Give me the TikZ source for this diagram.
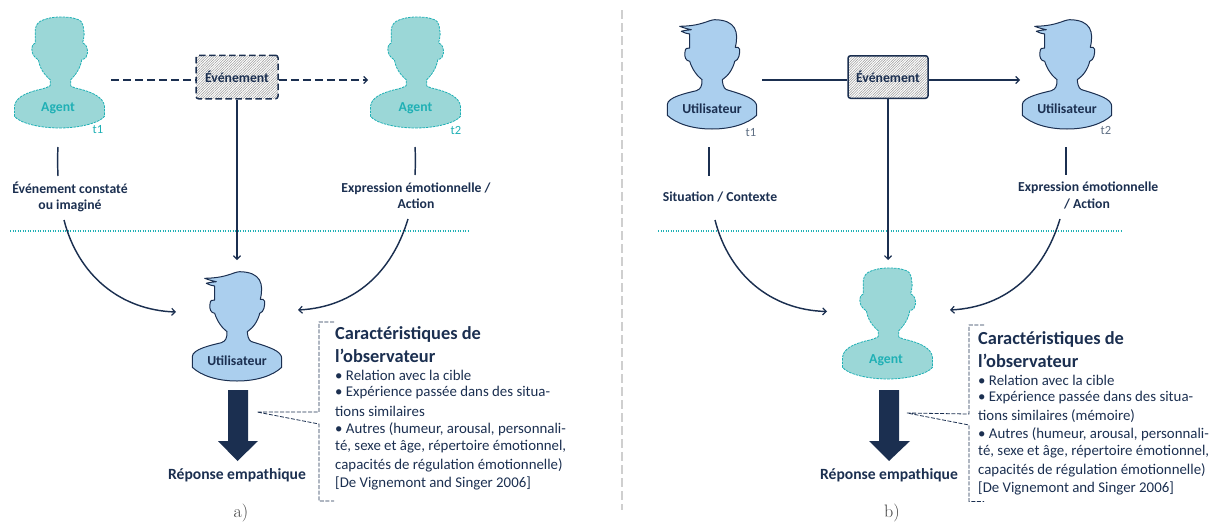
\documentclass[tikz,border=0pt]{standalone}
\usepackage{fontspec}
\newfontfamily\carl{Carlito}
\usetikzlibrary{arrows.meta,patterns.meta}
\definecolor{navy}{HTML}{1B2F50}
\definecolor{userblue}{HTML}{ABCFEE}
\definecolor{agentfill}{HTML}{9BD7D7}
\definecolor{agenttext}{HTML}{1FB0B5}
\definecolor{greytime}{HTML}{5F6F84}
\definecolor{sepgrey}{HTML}{CFCFCF}
\tikzset{
  x=1pt,y=-1pt,
  navyarrow/.style={draw=navy,line width=1.45pt,-{Straight Barb[length=3.5pt,width=7pt,line width=1.2pt]}},
  navyline/.style={draw=navy,line width=1.45pt},
  dashline/.style={draw=navy,line width=1.5pt,dash pattern=on 8pt off 4pt},
  dashtip/.style={dashline,-{Straight Barb[length=3.5pt,width=7pt,line width=1.2pt]}},
  bracket/.style={draw=navy,line width=.8pt,dash pattern=on 4pt off 1.6pt},
  dotline/.style={draw=agenttext,line width=1.3pt,dash pattern=on 1.2pt off 1.3pt},
  figlabel/.style={font=\carl\bfseries\fontsize{13.7}{15}\selectfont,text=navy,align=center,inner sep=0pt},
  agentname/.style={figlabel,text=agenttext},
  tlabel/.style={font=\carl\fontsize{12.5}{14}\selectfont,inner sep=0pt},
  response/.style={font=\carl\bfseries\fontsize{15.6}{18}\selectfont,text=navy,inner sep=0pt},
  headtext/.style={font=\carl\bfseries\fontsize{18.4}{22}\selectfont,text=navy,anchor=west,inner sep=0pt},
  bodytext/.style={font=\carl\fontsize{14.85}{18}\selectfont,text=navy,anchor=west,inner sep=0pt},
  caption/.style={font=\fontsize{18}{20}\selectfont,text=black!75,inner sep=0pt},
  eventbox/.style={rounded corners=2.5pt,minimum width=82pt,minimum height=43.5pt,inner sep=0pt,
    font=\carl\bfseries\fontsize{13.7}{15}\selectfont,text=navy,
    preaction={fill=white},
    pattern={Lines[angle=45,distance=1.8pt,line width=.5pt]},pattern color=black!40},
  bigarrow/.style={fill=navy,draw=none},
  pics/userfig/.style={code={
    \draw[fill=userblue,draw=navy,line width=1pt,line join=round]
      (0,0) .. controls (20,0) and (36,-5.5) .. (44.7,-13.7) -- (44.7,-22.7)
      .. controls (44.7,-30) and (32,-34) .. (16.7,-38.7)
      .. controls (13,-39.5) and (11,-41) .. (10.3,-49.3)
      .. controls (16,-53) and (21,-60) .. (22.7,-67.7)
      .. controls (27,-69) and (28,-75) .. (27.5,-80)
      .. controls (27,-82) and (25,-82) .. (23.3,-81.7)
      .. controls (27,-97) and (24,-109) .. (2.7,-109.3)
      .. controls (-4,-109) and (-10,-103) .. (-32.3,-102.7)
      .. controls (-28,-101) and (-24,-100) .. (-20.7,-99.3)
      .. controls (-24,-99) and (-28,-98.5) .. (-30.7,-97.7)
      .. controls (-28,-96) and (-25,-95.5) .. (-22.3,-95)
      -- (-22.3,-81)
      .. controls (-25,-82) and (-27,-80) .. (-27,-77)
      .. controls (-28,-72) and (-26,-68) .. (-22.3,-67.7)
      .. controls (-20,-60) and (-15,-53) .. (-10,-49.3)
      .. controls (-10,-43) and (-11,-40) .. (-15.7,-38.3)
      .. controls (-25,-36) and (-44.7,-32) .. (-44.7,-24.3)
      -- (-44.7,-13.7)
      .. controls (-36,-5.5) and (-20,0) .. (0,0) -- cycle;
  }},
  pics/agentfig/.style={code={
    \draw[fill=agentfill,draw=agenttext,line width=.8pt,dash pattern=on 2.5pt off 1pt,line join=round]
      (0,0) .. controls (20,0) and (40,-5) .. (45,-11.7) -- (45,-21.7)
      .. controls (44,-31) and (32,-36) .. (20,-39)
      .. controls (16,-40) and (13,-40.5) .. (11.3,-42) -- (11.3,-48.3)
      .. controls (16,-53) and (21,-60) .. (22.3,-68.3)
      .. controls (26,-69) and (28,-72) .. (28,-75)
      .. controls (28,-79) and (27.5,-84) .. (23,-85)
      .. controls (25,-92) and (25,-96) .. (24,-98.3)
      .. controls (24,-106) and (20,-108) .. (19,-108.3)
      .. controls (12,-111) and (6,-111) .. (0.7,-111)
      .. controls (-8,-111) and (-15,-109) .. (-19.3,-106.7)
      .. controls (-23,-104) and (-24.3,-101) .. (-24.3,-98.3)
      -- (-24.3,-85)
      .. controls (-26,-84) and (-27.7,-83) .. (-27.7,-80)
      .. controls (-28,-75) and (-26,-71) .. (-21,-68)
      .. controls (-20,-60) and (-15,-53) .. (-9.3,-48.3) -- (-9.3,-42.3)
      .. controls (-14,-39.5) and (-18,-39) .. (-22,-38)
      .. controls (-33,-35) and (-44,-31) .. (-45,-21.7) -- (-45,-11.7)
      .. controls (-40,-5) and (-20,0) .. (0,0) -- cycle;
  }}
}
\begin{document}
\begin{tikzpicture}
\useasboundingbox (0,0) rectangle (1219,525);
% separator
\coordinate (septop) at (622,10);
\coordinate (sepbot) at (622,510);
\draw[draw=sepgrey,line width=1.8pt,dash pattern=on 9pt off 4pt] (septop) -- (sepbot);
% dotted lines
\coordinate (dotAl) at (10,231); \coordinate (dotAr) at (469,231);
\coordinate (dotBl) at (658,231); \coordinate (dotBr) at (1121,231);
\draw[dotline] (dotAl) -- (dotAr);
\draw[dotline] (dotBl) -- (dotBr);

% ---- panel a
\pic at (59.5,128) {agentfig};
\pic at (415.5,128) {agentfig};
\pic at (237,381) {userfig};
\node[agentname] (agA1) at (58,108.5) {Agent};
\node[agentname] (agA2) at (415.5,108.5) {Agent};
\node[figlabel] (usA) at (237,360.5) {Utilisateur};
\node[tlabel,text=agenttext] (tA1) at (98,130) {t1};
\node[tlabel,text=agenttext] (tA2) at (456,130) {t2};
\node[eventbox,draw=navy,line width=1.5pt,dash pattern=on 6.5pt off 3.5pt] (evA) at (237,77) {Événement};
\coordinate (inA) at (111,80);
\coordinate (outA) at (368,80);
\coordinate (downA) at (237,260);
\draw[dashline] (inA) -- (inA -| evA.west);
\draw[dashtip] (outA -| evA.east) -- (outA);
\draw[navyarrow] (evA.south) -- (downA);
\coordinate (a1s) at (58,147); \coordinate (a1e) at (58,176);
\coordinate (a2s) at (415,147); \coordinate (a2e) at (415,175);
\draw[navyline] (a1s) .. controls (57.5,155) and (57.5,165) .. (a1e);
\draw[navyline] (a2s) .. controls (415.5,155) and (415.5,165) .. (a2e);
\node[figlabel] (lblA1) at (70,197) {Événement constaté\\[1pt]ou imaginé};
\node[figlabel] (lblA2) at (416,196) {Expression émotionnelle /\\[1pt]Action};
\coordinate (c1a) at (64,220); \coordinate (c1b) at (176,312);
\coordinate (c2a) at (408,219); \coordinate (c2b) at (298,310);
\draw[navyarrow] (c1a) .. controls (78,275) and (120,310) .. (c1b);
\draw[navyarrow] (c2a) .. controls (392,272) and (355,307) .. (c2b);
\fill[bigarrow] (228,390) -- (248,390) -- (248,441) -- (258,441) -- (237.5,461) -- (218,441) -- (228,441) -- cycle;
\node[response] (respA) at (237,475) {Réponse empathique};
\coordinate (brA0) at (334,322); \coordinate (brA1) at (319,322); \coordinate (brA2) at (319,412);
\coordinate (brA3) at (257,412); \coordinate (brA4) at (319,424); \coordinate (brA5) at (319,501); \coordinate (brA6) at (334,501);
\draw[bracket] (brA0) -- (brA1) -- (brA2) -- (brA3) -- (brA4) -- (brA5) -- (brA6);
\node[headtext] (hA1) at (335,334) {Caractéristiques de};
\node[headtext] (hA2) at (335,356) {l’observateur};
\node[bodytext] (tA_1) at (335,375) {• Relation avec la cible};
\node[bodytext] (tA_2) at (335,393) {• Expérience passée dans des situa-};
\node[bodytext] (tA_3) at (335,411) {tions similaires};
\node[bodytext] (tA_4) at (335,429) {• Autres (humeur, arousal, personnali-};
\node[bodytext] (tA_5) at (335,447) {té, sexe et âge, répertoire émotionnel,};
\node[bodytext] (tA_6) at (335,465) {capacités de régulation émotionnelle)};
\node[bodytext] (tA_7) at (335,483) {[De Vignemont and Singer 2006]};
\node[caption] (capA) at (241,513) {a)};

% ---- panel b
\pic at (712,129) {userfig};
\pic at (1067,129) {userfig};
\pic at (887.5,379) {agentfig};
\node[figlabel] (usB1) at (712,108.5) {Utilisateur};
\node[figlabel] (usB2) at (1067,108.5) {Utilisateur};
\node[agentname] (agB) at (886,360) {Agent};
\node[tlabel,text=greytime] (tB1) at (751,133) {t1};
\node[tlabel,text=greytime] (tB2) at (1106,130) {t2};
\node[eventbox,draw=navy,line width=1.5pt,minimum width=80pt,minimum height=42.5pt] (evB) at (888,77) {Événement};
\coordinate (inB) at (762,80);
\coordinate (outB) at (1020,80);
\coordinate (downB) at (888,260);
\draw[navyline] (inB) -- (inB -| evB.west);
\draw[navyarrow] (outB -| evB.east) -- (outB);
\draw[navyarrow] (evB.south) -- (downB);
\coordinate (b1s) at (709,147); \coordinate (b1e) at (709,176);
\coordinate (b2s) at (1066,147); \coordinate (b2e) at (1066,175);
\draw[navyline] (b1s) -- (b1e);
\draw[navyline] (b2s) -- (b2e);
\node[figlabel] (lblB1) at (720,197) {Situation / Contexte};
\node[figlabel,anchor=west] (lblB2a) at (1018,188) {Expression émotionnelle};
\node[figlabel] (lblB2b) at (1087,204) {/ Action};
\coordinate (d1a) at (715,220); \coordinate (d1b) at (827,311.5);
\coordinate (d2a) at (1060,219); \coordinate (d2b) at (950,310);
\draw[navyarrow] (d1a) .. controls (729,275) and (771,310) .. (d1b);
\draw[navyarrow] (d2a) .. controls (1044,272) and (1007,307) .. (d2b);
\fill[bigarrow] (879,390) -- (899,390) -- (899,441) -- (910,441) -- (889,461) -- (869,441) -- (879,441) -- cycle;
\node[response] (respB) at (889,475) {Réponse empathique};
\coordinate (brB0) at (984,325); \coordinate (brB1) at (969,325); \coordinate (brB2) at (969,414);
\coordinate (brB3) at (907,413); \coordinate (brB4) at (969,425); \coordinate (brB5) at (969,501.5); \coordinate (brB6) at (984,501.5);
\draw[bracket] (brB0) -- (brB1) -- (brB2) -- (brB3) -- (brB4) -- (brB5) -- (brB6);
\node[headtext] (hB1) at (978,339) {Caractéristiques de};
\node[headtext] (hB2) at (978,361) {l’observateur};
\node[bodytext] (tB_1) at (978,380) {• Relation avec la cible};
\node[bodytext] (tB_2) at (978,398) {• Expérience passée dans des situa-};
\node[bodytext] (tB_3) at (978,416) {tions similaires (mémoire)};
\node[bodytext] (tB_4) at (978,434) {• Autres (humeur, arousal, personnali-};
\node[bodytext] (tB_5) at (978,452) {té, sexe et âge, répertoire émotionnel,};
\node[bodytext] (tB_6) at (978,470) {capacités de régulation émotionnelle)};
\node[bodytext] (tB_7) at (978,488) {[De Vignemont and Singer 2006]};
\node[caption] (capB) at (892,513) {b)};
\end{tikzpicture}
\end{document}
